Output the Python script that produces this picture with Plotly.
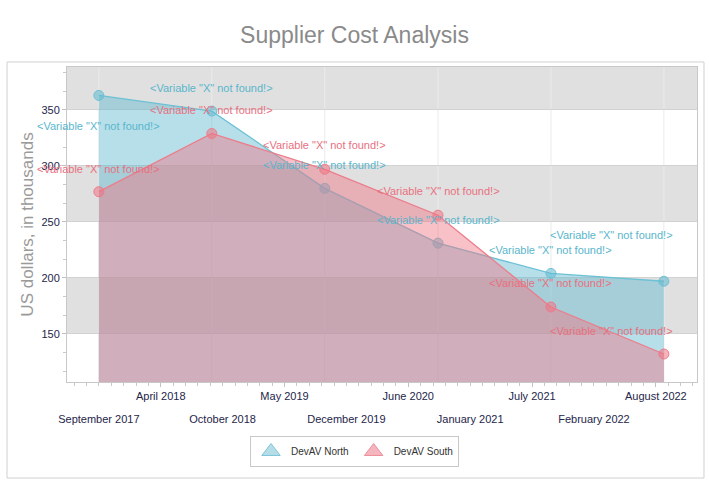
import plotly.graph_objects as go

# ---------------- data ----------------
dates = ["2017-09-25", "2018-09-25", "2019-09-25", "2020-09-25", "2021-09-25", "2022-09-25"]
north = [363, 349, 280, 231, 204, 197]
south = [277, 329, 297, 256, 174, 132]
series_names = ["DevAV North", "DevAV South"]
point_label = '<Variable "X" not found!>'

upper_tick_dates = ["2018-04-13", "2019-05-18", "2020-06-21", "2021-07-26", "2022-08-30"]
upper_tick_labels = ["April 2018", "May 2019", "June 2020", "July 2021", "August 2022"]
lower_tick_dates = ["2017-09-25", "2018-10-30", "2019-12-04", "2021-01-07", "2022-02-11"]
lower_tick_labels = ["September 2017", "October 2018", "December 2019", "January 2021", "February 2022"]
y_ticks = [150, 200, 250, 300, 350]
band_ranges = [(150, 200), (250, 300), (350, 400)]

x_range = ["2017-06-14", "2023-01-10"]
y_range = [107, 388.4]

# ---------------- style ----------------
FONT = "Liberation Sans, Arial, sans-serif"
N_LINE = "#6cc1d4"
N_FILL = "rgba(95,185,207,0.45)"
N_MARK = "rgba(95,185,207,0.55)"
N_TEXT = "#5ab6cc"
S_LINE = "#ec7d8b"
S_FILL = "rgba(240,115,130,0.45)"
S_MARK = "rgba(240,115,130,0.55)"
S_TEXT = "#e8707f"
AXIS_TEXT = "#25254a"

# label offsets (pixels) for each point label
north_shift = [(0, -31), (0, 23), (0, 23), (0, 23), (0, 23), (-52, 46)]
south_shift = [(0, 23), (0, 23), (0, 24), (0, 24), (0, 24), (-52, 23)]

fig = go.Figure()

fig.add_trace(go.Scatter(
    x=dates, y=north, name=series_names[0], mode="lines+markers",
    fill="tozeroy", fillcolor=N_FILL,
    line=dict(color=N_LINE, width=1.3),
    marker=dict(size=10, color=N_MARK, line=dict(color=N_LINE, width=1)),
    showlegend=False, hoverinfo="x+y"))
fig.add_trace(go.Scatter(
    x=dates, y=south, name=series_names[1], mode="lines+markers",
    fill="tozeroy", fillcolor=S_FILL,
    line=dict(color=S_LINE, width=1.3),
    marker=dict(size=10, color=S_MARK, line=dict(color=S_LINE, width=1)),
    showlegend=False, hoverinfo="x+y"))

# legend entries with triangle markers (on secondary x axis)
fig.add_trace(go.Scatter(
    x=[None], y=[None], name=series_names[0], mode="markers", xaxis="x2",
    marker=dict(symbol="triangle-up", size=18, color="#b4dde7",
                line=dict(color="#7fc6d8", width=1))))
fig.add_trace(go.Scatter(
    x=[None], y=[None], name=series_names[1], mode="markers", xaxis="x2",
    marker=dict(symbol="triangle-up", size=18, color="#f4b5be",
                line=dict(color="#ee8f9c", width=1))))

annotations = []
for d, v, (dx, dy) in zip(dates, north, north_shift):
    annotations.append(dict(x=d, y=v, xref="x", yref="y", text=point_label,
                            showarrow=False, xshift=dx, yshift=dy,
                            font=dict(family=FONT, size=11, color=N_TEXT)))
for d, v, (dx, dy) in zip(dates, south, south_shift):
    annotations.append(dict(x=d, y=v, xref="x", yref="y", text=point_label,
                            showarrow=False, xshift=dx, yshift=dy,
                            font=dict(family=FONT, size=11, color=S_TEXT)))

shapes = []
for lo, hi in band_ranges:
    shapes.append(dict(type="rect", xref="paper", yref="y", x0=0, x1=1, y0=lo, y1=hi,
                       fillcolor="#e0e0e0", line=dict(width=0), layer="below"))
for d in dates:
    shapes.append(dict(type="line", xref="x", yref="paper", x0=d, x1=d, y0=0, y1=1,
                       line=dict(color="#ebebeb", width=1), layer="below"))
# outer chart border
shapes.append(dict(type="rect", xref="paper", yref="paper",
                   x0=-0.0952, x1=1.0111, y0=-0.3048, y1=1.0159,
                   line=dict(color="#d0d0d0", width=1), fillcolor="rgba(0,0,0,0)"))

fig.update_layout(
    width=709, height=487,
    margin=dict(l=67, r=12, t=67, b=105, autoexpand=False),
    paper_bgcolor="white", plot_bgcolor="white",
    font=dict(family=FONT, size=11, color=AXIS_TEXT),
    title=dict(text="Supplier Cost Analysis", x=0.5, xanchor="center",
               y=1 - 35 / 487, yanchor="middle", yref="container",
               font=dict(family=FONT, size=23, color="#8a8a8a")),
    xaxis=dict(type="date", range=x_range, tickvals=upper_tick_dates,
               ticktext=upper_tick_labels, ticks="outside", ticklen=4,
               tickcolor="#c0c0c0", showgrid=False, showline=True,
               linecolor="#c8c8c8", mirror=True, zeroline=False, automargin=False,
               minor=dict(ticks="outside", ticklen=3, tickcolor="#c8c8c8",
                          dtick=40 * 86400000, tick0="2017-09-25", showgrid=False),
               tickfont=dict(size=11, color=AXIS_TEXT)),
    xaxis2=dict(type="date", range=x_range, overlaying="x", anchor="y", side="bottom",
                tickvals=lower_tick_dates, ticktext=lower_tick_labels,
                ticks="", showgrid=False, showline=False, zeroline=False,
                automargin=False,
                ticklabelstandoff=29, tickfont=dict(size=11, color=AXIS_TEXT)),
    yaxis=dict(range=y_range, tickvals=y_ticks, ticks="outside", ticklen=4,
               tickcolor="#c0c0c0", showgrid=True, gridcolor="#d2d2d2",
               showline=True, linecolor="#c8c8c8", mirror=True, zeroline=False,
               automargin=False,
               minor=dict(ticks="outside", ticklen=3, tickcolor="#c8c8c8",
                          dtick=50 / 3, tick0=150, showgrid=False),
               title=dict(text="US dollars, in thousands", standoff=3,
                          font=dict(family=FONT, size=17, color="#9a9a9a")),
               tickfont=dict(size=11, color=AXIS_TEXT)),
    legend=dict(orientation="h", x=0.5, xanchor="center", xref="container",
                y=1 - 436 / 487, yanchor="top", yref="container",
                bordercolor="#c8c8c8", borderwidth=1, bgcolor="white",
                font=dict(family=FONT, size=10, color="#333333"),
                itemsizing="trace", itemwidth=30),
    annotations=annotations,
    shapes=shapes,
)

fig.write_html("out.html", config={"displayModeBar": False},
               post_script="document.body.style.margin='0px';")
